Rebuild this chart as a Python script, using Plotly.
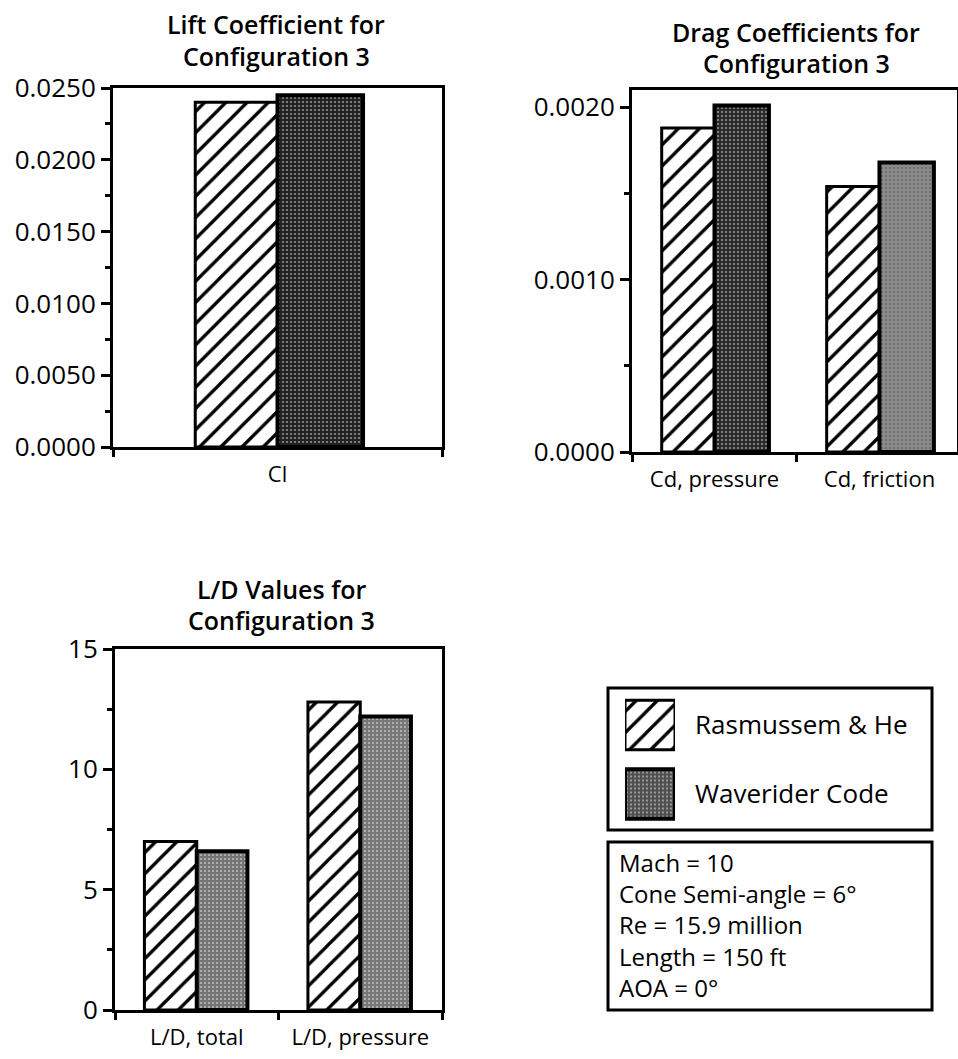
import plotly.graph_objects as go

# ---- data -----------------------------------------------------------------
series_names = ["Rasmussem & He", "Waverider Code"]

lift_categories = ["Cl"]
lift_rasmussem = [0.0240]
lift_waverider = [0.0245]

drag_categories = ["Cd, pressure", "Cd, friction"]
drag_rasmussem = [0.00188, 0.00154]
drag_waverider = [0.00201, 0.00168]

ld_categories = ["L/D, total", "L/D, pressure"]
ld_rasmussem = [7.0, 12.8]
ld_waverider = [6.6, 12.2]

conditions = [
    "Mach = 10",
    "Cone Semi-angle = 6°",
    "Re = 15.9 million",
    "Length = 150 ft",
    "AOA = 0°",
]

# ---- page geometry (pixels) -------------------------------------------------
W, H = 958, 1059
FONT = "Open Sans"


def fx(p):
    return p / W


def fy(p):
    return 1 - p / H


HATCH = dict(shape="/", fgcolor="black", bgcolor="white", fgopacity=1,
             size=15, solidity=0.22)
STIPPLE = dict(shape=".", fgcolor="white", size=4, solidity=0.22,
               fillmode="overlay")


def hatched_bar(x, y, xa, ya, width):
    return go.Bar(
        x=x, y=y, xaxis=xa, yaxis=ya, width=width, offset=-width,
        name=series_names[0], showlegend=False, cliponaxis=False,
        marker=dict(color="white", line=dict(color="black", width=3),
                    pattern=HATCH),
    )


def stippled_bar(x, y, xa, ya, width, fills):
    return go.Bar(
        x=x, y=y, xaxis=xa, yaxis=ya, width=width, offset=0,
        name=series_names[1], showlegend=False, cliponaxis=False,
        marker=dict(color=fills, line=dict(color="black", width=4),
                    pattern=STIPPLE),
    )


fig = go.Figure()

# Lift coefficient
fig.add_trace(hatched_bar(lift_categories, lift_rasmussem, "x", "y", 0.25))
fig.add_trace(stippled_bar(lift_categories, lift_waverider, "x", "y", 0.26,
                           ["#222222"]))

# Drag coefficients
fig.add_trace(hatched_bar(drag_categories, drag_rasmussem, "x2", "y2", 0.32))
fig.add_trace(stippled_bar(drag_categories, drag_waverider, "x2", "y2", 0.33,
                           ["#2a2a2a", "#8a8a8a"]))

# L/D values
fig.add_trace(hatched_bar(ld_categories, ld_rasmussem, "x3", "y3", 0.32))
fig.add_trace(stippled_bar(ld_categories, ld_waverider, "x3", "y3", 0.31,
                           ["#747474", "#787878"]))

# Legend keys: one full-length horizontal bar per series
legend_key = [1]
fig.add_trace(go.Bar(
    y=[series_names[0]], x=legend_key, orientation="h", xaxis="x4", yaxis="y4",
    width=0.72, showlegend=False, cliponaxis=False,
    marker=dict(color="white", line=dict(color="black", width=3), pattern=HATCH),
))
fig.add_trace(go.Bar(
    y=[series_names[1]], x=legend_key, orientation="h", xaxis="x4", yaxis="y4",
    width=0.72, showlegend=False, cliponaxis=False,
    marker=dict(color="#505050", line=dict(color="black", width=4),
                pattern=STIPPLE),
))

x_tick_font = dict(family=FONT, size=22, color="black")
y_tick_font = dict(family=FONT, size=26, color="black")


def x_axis(domain, anchor, rng):
    return dict(
        domain=domain, anchor=anchor, type="category", range=rng,
        tickson="boundaries", ticks="outside", ticklen=7, tickwidth=3,
        tickcolor="black", showline=True, linewidth=3, linecolor="black",
        mirror=True, showgrid=False, zeroline=False, tickfont=x_tick_font,
        ticklabelstandoff=6, automargin=False, fixedrange=True,
    )


def y_axis(domain, anchor, rng, dtick, minor, fmt):
    return dict(
        domain=domain, anchor=anchor, range=rng, dtick=dtick, tick0=0,
        tickformat=fmt, ticks="outside", ticklen=9, tickwidth=3,
        tickcolor="black", showline=True, linewidth=3, linecolor="black",
        mirror=True, showgrid=False, zeroline=False, tickfont=y_tick_font,
        ticklabelstandoff=0,
        minor=dict(dtick=minor, tick0=0, ticks="outside", ticklen=5,
                   tickwidth=3, tickcolor="black", showgrid=False),
        automargin=False, fixedrange=True,
    )


fig.update_layout(
    width=W, height=H,
    margin=dict(l=0, r=0, t=0, b=0, pad=0, autoexpand=False),
    paper_bgcolor="white", plot_bgcolor="white",
    barmode="overlay",
    font=dict(family=FONT, color="black"),
    xaxis=x_axis([fx(113), fx(442)], "y", [-0.5, 0.5]),
    yaxis=y_axis([fy(447), fy(88)], "x", [0, 0.025], 0.005, 0.0025, ".4f"),
    xaxis2=x_axis([fx(632), fx(957)], "y2", [-0.5, 1.47]),
    yaxis2=y_axis([fy(452), fy(90)], "x2", [0, 0.0021], 0.001, 0.0005, ".4f"),
    xaxis3=x_axis([fx(115), fx(442)], "y3", [-0.5, 1.5]),
    yaxis3=y_axis([fy(1010), fy(649)], "x3", [0, 15], 5, 2.5, "d"),
    xaxis4=dict(domain=[fx(625), fx(675)], anchor="y4", range=[0, 1],
                visible=False, automargin=False, fixedrange=True),
    yaxis4=dict(domain=[fy(828.5), fy(690.5)], anchor="x4", type="category",
                autorange="reversed", side="right", showline=False,
                showgrid=False, zeroline=False, ticks="",
                ticklabelstandoff=19, automargin=False, fixedrange=True,
                tickfont=dict(family=FONT, size=26, color="black")),
    showlegend=False,
)

title_font = dict(family=FONT, size=25, color="black", weight=600)
titles = [
    (["Lift Coefficient for", "Configuration 3"], 276, [24, 56]),
    (["Drag Coefficients for", "Configuration 3"], 796, [32, 63]),
    (["L/D Values for", "Configuration 3"], 281, [589, 620]),
]
for lines, cx, ys in titles:
    for text, cy in zip(lines, ys):
        fig.add_annotation(text=text, x=fx(cx), y=fy(cy), xref="paper",
                           yref="paper", showarrow=False, xanchor="center",
                           yanchor="middle", font=title_font)

# legend frame and flight-condition box
fig.add_shape(type="rect", xref="paper", yref="paper",
              x0=fx(608), x1=fx(932), y0=fy(830), y1=fy(688),
              line=dict(color="black", width=3), fillcolor="rgba(0,0,0,0)")
fig.add_shape(type="rect", xref="paper", yref="paper",
              x0=fx(608), x1=fx(932), y0=fy(1010), y1=fy(842),
              line=dict(color="black", width=3), fillcolor="rgba(0,0,0,0)")
fig.add_annotation(text="<br>".join(conditions), x=fx(617), y=fy(925),
                   xref="paper", yref="paper", showarrow=False,
                   xanchor="left", yanchor="middle", align="left",
                   font=dict(family=FONT, size=24, color="black"))

fig.write_html("out.html")
